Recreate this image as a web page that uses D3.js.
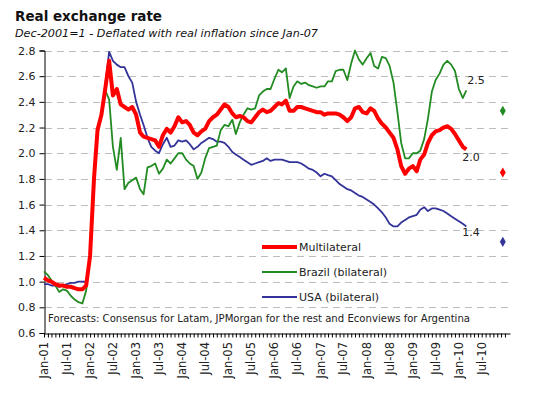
<!DOCTYPE html>
<html>
<head>
<meta charset="utf-8">
<script src="https://cdn.jsdelivr.net/npm/d3@7"></script>
<style>
  body { margin: 0; background: #fff; }
  svg { font-family: "DejaVu Sans", Verdana, sans-serif; }
</style>
</head>
<body>
<svg id="chart" width="533" height="395"></svg>
<script>
// monthly values, Jan-01 .. Mar-10
var multilateral = [
  1.03,1.01,1.0,0.98,0.97,0.97,0.96,0.96,0.95,0.94,0.94,0.97,
  1.2,1.8,2.18,2.3,2.5,2.72,2.45,2.5,2.38,2.36,2.34,2.36,
  2.3,2.16,2.13,2.12,2.11,2.1,2.05,2.14,2.19,2.16,2.21,2.28,
  2.24,2.25,2.22,2.16,2.14,2.17,2.19,2.25,2.28,2.3,2.34,2.38,
  2.36,2.31,2.28,2.29,2.28,2.25,2.24,2.28,2.32,2.34,2.32,2.33,
  2.36,2.39,2.38,2.41,2.33,2.33,2.36,2.36,2.35,2.34,2.33,2.32,
  2.32,2.3,2.31,2.31,2.31,2.3,2.28,2.25,2.28,2.35,2.36,2.32,
  2.31,2.35,2.33,2.27,2.23,2.2,2.16,2.12,2.03,1.9,1.84,1.88,
  1.9,1.86,1.95,1.99,2.08,2.14,2.17,2.18,2.2,2.21,2.19,2.15,
  2.1,2.05,2.03
];
var brazil = [
  1.08,1.05,1.01,0.97,0.92,0.94,0.93,0.89,0.86,0.84,0.83,0.93,
  1.2,1.8,2.15,2.3,2.49,2.42,2.05,1.87,2.12,1.72,1.77,1.79,
  1.81,1.72,1.68,1.89,1.9,1.92,1.84,1.88,1.95,1.92,1.96,2.0,
  2.0,1.95,1.92,1.9,1.8,1.85,1.96,2.04,2.05,2.06,2.18,2.22,
  2.21,2.26,2.15,2.24,2.3,2.35,2.34,2.35,2.45,2.48,2.5,2.5,
  2.58,2.65,2.63,2.66,2.43,2.52,2.56,2.54,2.55,2.53,2.52,2.51,
  2.52,2.52,2.56,2.56,2.64,2.65,2.65,2.57,2.7,2.8,2.73,2.69,
  2.74,2.78,2.68,2.66,2.75,2.74,2.68,2.55,2.32,2.08,1.96,1.96,
  2.0,2.0,2.02,2.11,2.27,2.48,2.57,2.62,2.69,2.72,2.69,2.64,
  2.5,2.43,2.49
];
var usa = [
  0.98,0.98,0.97,0.97,0.96,0.97,0.98,0.99,0.99,1.0,1.0,1.0,
  1.2,1.8,2.2,2.3,2.53,2.79,2.72,2.69,2.67,2.67,2.6,2.55,
  2.4,2.3,2.22,2.12,2.05,2.02,2.0,2.07,2.12,2.05,2.06,2.1,
  2.09,2.1,2.07,2.03,2.05,2.08,2.1,2.12,2.11,2.09,2.09,2.08,
  2.05,2.01,1.99,1.97,1.95,1.93,1.91,1.92,1.93,1.94,1.96,1.94,
  1.95,1.95,1.95,1.94,1.93,1.93,1.93,1.92,1.9,1.88,1.87,1.85,
  1.82,1.84,1.83,1.82,1.79,1.76,1.74,1.72,1.71,1.69,1.67,1.66,
  1.64,1.62,1.6,1.57,1.54,1.5,1.45,1.43,1.43,1.46,1.48,1.5,
  1.51,1.52,1.56,1.58,1.55,1.57,1.57,1.56,1.55,1.53,1.51,1.49,
  1.47,1.45,1.43
];
// Dec-10 forecasts
var forecasts = [
  { name: "Brazil", value: 2.33 },
  { name: "Multilateral", value: 1.85 },
  { name: "USA", value: 1.31 }
];
var endLabels = ["2.5", "2.0", "1.4"];
var yTicks = [0.6, 0.8, 1.0, 1.2, 1.4, 1.6, 1.8, 2.0, 2.2, 2.4, 2.6, 2.8];
var xTickLabels = ["Jan-01","Jul-01","Jan-02","Jul-02","Jan-03","Jul-03","Jan-04","Jul-04",
  "Jan-05","Jul-05","Jan-06","Jul-06","Jan-07","Jul-07","Jan-08","Jul-08",
  "Jan-09","Jul-09","Jan-10","Jul-10"];

var start = new Date(2001, 0, 1);
var series = [
  { name: "Multilateral", values: multilateral, color: "#ff0000", width: 4 },
  { name: "Brazil (bilateral)", values: brazil, color: "#228b22", width: 1.8 },
  { name: "USA (bilateral)", values: usa, color: "#333399", width: 1.8 }
];

var svg = d3.select("#chart");
var plotLeft = 44, plotRight = 510, plotTop = 50.5, plotBottom = 333;

var x = d3.scaleTime()
  .domain([start, new Date(2011, 1, 10)])
  .range([plotLeft, plotRight]);
var y = d3.scaleLinear().domain([0.6, 2.8]).range([plotBottom, plotTop]);

// title
svg.append("text").attr("x", 15).attr("y", 21)
  .attr("font-weight", "bold").attr("font-size", 14)
  .attr("textLength", 147).attr("lengthAdjust", "spacingAndGlyphs")
  .attr("fill", "#111").text("Real exchange rate");
svg.append("text").attr("x", 15).attr("y", 37)
  .attr("font-style", "italic").attr("font-size", 10.5)
  .attr("textLength", 303).attr("lengthAdjust", "spacingAndGlyphs")
  .attr("fill", "#111").text("Dec-2001=1 - Deflated with real inflation since Jan-07");

// grid
svg.append("g").selectAll("line")
  .data(yTicks.slice(1))
  .enter().append("line")
  .attr("x1", plotLeft + 1).attr("x2", plotRight)
  .attr("y1", function (d) { return Math.round(y(d)) + 0.5; })
  .attr("y2", function (d) { return Math.round(y(d)) + 0.5; })
  .attr("stroke", "#bdbdbd")
  .attr("stroke-dasharray", "7,5");

// y axis
var yAxis = svg.append("g")
  .attr("transform", "translate(" + (plotLeft + 0.5) + ",0)")
  .call(d3.axisLeft(y).tickValues(yTicks).tickSize(5).tickPadding(4)
    .tickFormat(d3.format(".1f")));
yAxis.selectAll("text").attr("font-size", 11).attr("fill", "#222")
  .attr("font-family", "DejaVu Sans");
yAxis.select(".domain").attr("stroke", "#000");

// x axis, monthly ticks
var months = d3.timeMonth.range(start, new Date(2011, 1, 1));
var xAxis = svg.append("g")
  .attr("transform", "translate(0," + (plotBottom + 0.5) + ")")
  .call(d3.axisBottom(x).tickValues(months).tickSize(4).tickSizeOuter(0)
    .tickFormat(""));
xAxis.select(".domain").attr("stroke", "#000");
xAxis.selectAll(".tick line").attr("stroke", "#000");

var labelDates = xTickLabels.map(function (d, i) { return d3.timeMonth.offset(start, i * 6); });
svg.append("g").selectAll("text")
  .data(xTickLabels)
  .enter().append("text")
  .attr("transform", function (d, i) {
    return "translate(" + (x(labelDates[i]) + 4) + "," + (plotBottom + 9) + ") rotate(-90)";
  })
  .attr("text-anchor", "end")
  .attr("font-size", 11.5)
  .attr("fill", "#222")
  .text(function (d) { return d; });

// lines
var line = d3.line()
  .x(function (d, i) { return x(d3.timeMonth.offset(start, i)); })
  .y(function (d) { return y(d); });

svg.append("g").selectAll("path")
  .data(series.slice().reverse())
  .enter().append("path")
  .attr("d", function (d) { return line(d.values); })
  .attr("fill", "none")
  .attr("stroke", function (d) { return d.color; })
  .attr("stroke-width", function (d) { return d.width; })
  .attr("stroke-linejoin", "round");

// end labels
var endX = x(d3.timeMonth.offset(start, brazil.length - 1));
var endY = [y(brazil[brazil.length - 1]) - 6, y(multilateral[multilateral.length - 1]) + 12, y(usa[usa.length - 1]) + 10];
svg.append("g").selectAll("text")
  .data(endLabels)
  .enter().append("text")
  .attr("x", function (d, i) { return endX + (i === 0 ? 1 : -4); })
  .attr("y", function (d, i) { return endY[i]; })
  .attr("font-size", 11)
  .attr("fill", "#222")
  .text(function (d) { return d; });

// forecast diamonds
var fColors = ["#228b22", "#ff0000", "#333399"];
var fDate = new Date(2010, 11, 15);
svg.append("g").selectAll("path")
  .data(forecasts)
  .enter().append("path")
  .attr("d", d3.symbol().type(d3.symbolDiamond).size(30))
  .attr("transform", function (d) { return "translate(" + x(fDate) + "," + y(d.value) + ")"; })
  .attr("fill", function (d, i) { return fColors[i]; });

// legend
var legend = svg.append("g").attr("transform", "translate(262,247)");
var items = legend.selectAll("g").data(series).enter().append("g")
  .attr("transform", function (d, i) { return "translate(0," + i * 25 + ")"; });
items.append("line")
  .attr("x1", 0).attr("x2", 35)
  .attr("stroke", function (d) { return d.color; })
  .attr("stroke-width", function (d) { return d.width === 4 ? 4 : 2; });
items.append("text")
  .attr("x", 37).attr("y", 4)
  .attr("font-size", 11).attr("fill", "#222")
  .text(function (d) { return d.name; });

// footnote
svg.append("text").attr("x", 48).attr("y", 322)
  .attr("font-size", 10.5)
  .attr("textLength", 422).attr("lengthAdjust", "spacingAndGlyphs")
  .attr("fill", "#222")
  .text("Forecasts: Consensus for Latam, JPMorgan for the rest and Econviews for Argentina");
</script>
</body>
</html>
